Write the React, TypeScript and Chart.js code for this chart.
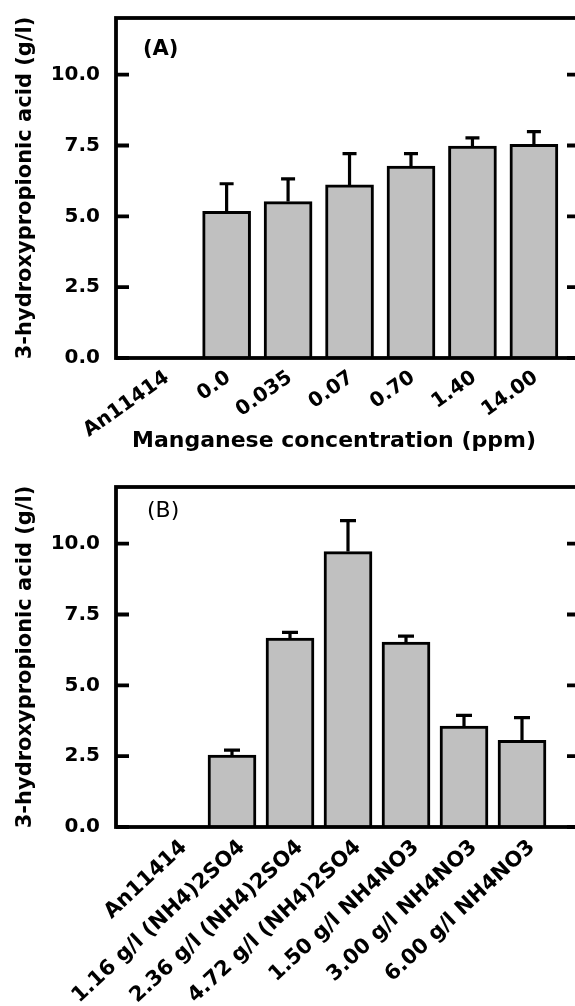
import React, { useEffect, useRef } from 'react';
import { Chart, registerables } from 'chart.js';

Chart.register(...registerables);

// ---- Data ----
const manganeseLabels = ['An11414', '0.0', '0.035', '0.07', '0.70', '1.40', '14.00'];
const manganeseMeans = [null, 5.18, 5.52, 6.11, 6.77, 7.48, 7.54];
const manganeseErrors = [null, 0.97, 0.8, 1.1, 0.44, 0.29, 0.45];

const nitrogenLabels = [
  'An11414',
  '1.16 g/l (NH4)2SO4',
  '2.36 g/l (NH4)2SO4',
  '4.72 g/l (NH4)2SO4',
  '1.50 g/l NH4NO3',
  '3.00 g/l NH4NO3',
  '6.00 g/l NH4NO3',
];
const nitrogenMeans = [null, 2.54, 6.67, 9.72, 6.53, 3.56, 3.06];
const nitrogenErrors = [null, 0.17, 0.2, 1.09, 0.21, 0.38, 0.8];

const yTicks = [0, 2.5, 5, 7.5, 10];
const yTitle = '3-hydroxypropionic acid (g/l)';
const xTitleA = 'Manganese concentration (ppm)';

const FONT = "'DejaVu Sans', sans-serif";

// ---- Plugins ----
const errorBars = {
  id: 'errorBars',
  afterDatasetsDraw(chart: any, _args: any, opts: any) {
    const { ctx, scales } = chart;
    const xs = scales.x;
    const ys = scales.y;
    const pts = chart.data.datasets[0].data;
    ctx.save();
    ctx.strokeStyle = '#000';
    ctx.lineWidth = opts.lineWidth;
    pts.forEach((pt: any, i: number) => {
      const err = opts.errors[i];
      if (pt.y == null || err == null) return;
      const px = xs.getPixelForValue(pt.x);
      const top = ys.getPixelForValue(pt.y);
      const end = ys.getPixelForValue(pt.y + err);
      ctx.beginPath();
      ctx.moveTo(px, top);
      ctx.lineTo(px, end);
      ctx.moveTo(px - opts.capWidth / 2, end);
      ctx.lineTo(px + opts.capWidth / 2, end);
      ctx.stroke();
    });
    ctx.restore();
  },
};

const frameAndTicks = {
  id: 'frameAndTicks',
  afterDraw(chart: any) {
    const { ctx, chartArea: a, scales } = chart;
    const ys = scales.y;
    ctx.save();
    ctx.strokeStyle = '#000';
    ctx.lineWidth = 3.8;
    ctx.beginPath();
    for (const t of ys.ticks) {
      const py = ys.getPixelForValue(t.value);
      ctx.moveTo(a.left, py);
      ctx.lineTo(a.left + 13, py);
      ctx.moveTo(a.right - 13, py);
      ctx.lineTo(a.right, py);
    }
    ctx.stroke();
    ctx.strokeRect(a.left, a.top, a.right - a.left, a.bottom - a.top);
    ctx.restore();
  },
};

const captions = {
  id: 'captions',
  afterDraw(chart: any, _args: any, opts: any) {
    const { ctx, chartArea: a } = chart;
    ctx.save();
    ctx.fillStyle = '#000';
    ctx.textBaseline = 'middle';
    // panel letter
    ctx.font = opts.labelFont;
    ctx.textAlign = 'left';
    ctx.fillText(opts.label, a.left + opts.labelDx, a.top + opts.labelDy);
    // x-axis caption
    if (opts.xTitle) {
      ctx.font = opts.xTitleFont;
      ctx.textAlign = 'center';
      ctx.fillText(opts.xTitle, (a.left + a.right) / 2 + opts.xTitleDx, a.bottom + opts.xTitleDy);
    }
    ctx.restore();
  },
};

type PanelSpec = {
  labels: string[];
  means: (number | null)[];
  errors: (number | null)[];
  xMin: number;
  xMax: number;
  rotation: number;
  padTop: number;
  xHeight: number;
  tickFont: any;
  tickPadding: number;
  labelOffset: number;
  xTitle?: string;
  label: string;
  labelFont: string;
  labelDx: number;
  labelDy: number;
  capWidth: number;
};

function makeConfig(p: PanelSpec): any {
  return {
    type: 'bar',
    data: {
      datasets: [
        {
          data: p.labels.map((_, i) => ({ x: i, y: p.means[i] })),
          backgroundColor: '#c0c0c0',
          borderColor: '#000',
          borderWidth: 3,
          barThickness: 48,
        },
      ],
    },
    options: {
      animation: false,
      responsive: false,
      maintainAspectRatio: false,
      layout: { padding: { top: p.padTop, right: 40, left: 0, bottom: 0 } },
      plugins: {
        legend: { display: false },
        tooltip: { enabled: false },
        errorBars: { errors: p.errors, lineWidth: 3.2, capWidth: p.capWidth },
        captions: {
          label: p.label,
          labelFont: p.labelFont,
          labelDx: p.labelDx,
          labelDy: p.labelDy,
          xTitle: p.xTitle,
          xTitleFont: `bold 22px ${FONT}`,
          xTitleDx: -14,
          xTitleDy: 83,
        },
      },
      scales: {
        x: {
          type: 'linear',
          min: p.xMin,
          max: p.xMax,
          offset: false,
          grid: { display: false, drawTicks: false, offset: false },
          border: { display: false },
          afterBuildTicks: (s: any) => {
            s.ticks = p.labels.map((_, i) => ({ value: i }));
          },
          afterFit: (s: any) => {
            s.height = p.xHeight;
            s.paddingLeft = 0;
            s.paddingRight = 0;
          },
          ticks: {
            autoSkip: false,
            minRotation: p.rotation,
            maxRotation: p.rotation,
            padding: p.tickPadding,
            labelOffset: p.labelOffset,
            color: '#000',
            font: p.tickFont,
            callback: (v: any) => p.labels[Math.round(v)] ?? '',
          },
          title: { display: false },
        },
        y: {
          min: 0,
          max: 12,
          grid: { display: false, drawTicks: false },
          border: { display: false },
          afterBuildTicks: (s: any) => {
            s.ticks = yTicks.map((v) => ({ value: v }));
          },
          afterFit: (s: any) => {
            s.width = 116;
            s.paddingTop = 0;
            s.paddingBottom = 0;
          },
          ticks: {
            padding: 16,
            color: '#000',
            font: { family: FONT, size: 20, weight: 'bold' },
            callback: (v: any) => Number(v).toFixed(1),
          },
          title: {
            display: true,
            text: yTitle,
            color: '#000',
            font: { family: FONT, size: 21, weight: 'bold' },
            padding: { top: 13, bottom: 0 },
          },
        },
      },
    },
    plugins: [errorBars, frameAndTicks, captions],
  };
}

function Panel({ top, width, height, spec }: { top: number; width: number; height: number; spec: PanelSpec }) {
  const ref = useRef<HTMLCanvasElement | null>(null);
  useEffect(() => {
    if (!ref.current) return;
    const chart = new Chart(ref.current, makeConfig(spec));
    return () => chart.destroy();
  }, []);
  return (
    <canvas
      ref={ref}
      width={width}
      height={height}
      style={{ position: 'absolute', left: 0, top, width, height, display: 'block' }}
    />
  );
}

const specA: PanelSpec = {
  labels: manganeseLabels,
  means: manganeseMeans,
  errors: manganeseErrors,
  xMin: -0.8,
  xMax: 6.75,
  rotation: 35,
  padTop: 18,
  xHeight: 112,
  tickFont: { family: FONT, size: 20, weight: 'bold' },
  tickPadding: 8,
  labelOffset: 2,
  xTitle: xTitleA,
  label: '(A)',
  labelFont: `bold 21px ${FONT}`,
  labelDx: 27,
  labelDy: 32,
  capWidth: 14,
};

const specB: PanelSpec = {
  labels: nitrogenLabels,
  means: nitrogenMeans,
  errors: nitrogenErrors,
  xMin: -1,
  xMax: 7,
  rotation: 43,
  padTop: 17,
  xHeight: 179,
  tickFont: { family: FONT, size: 21, weight: 'bold' },
  tickPadding: 8,
  labelOffset: 10,
  label: '(B)',
  labelFont: `22px ${FONT}`,
  labelDx: 31,
  labelDy: 24,
  capWidth: 16,
};

export default function App() {
  return (
    <div
      style={{
        position: 'fixed',
        left: 0,
        top: 0,
        width: 575,
        height: 1006,
        overflow: 'hidden',
        background: '#fff',
      }}
    >
      <Panel top={0} width={620} height={470} spec={specA} />
      <Panel top={470} width={620} height={536} spec={specB} />
    </div>
  );
}
